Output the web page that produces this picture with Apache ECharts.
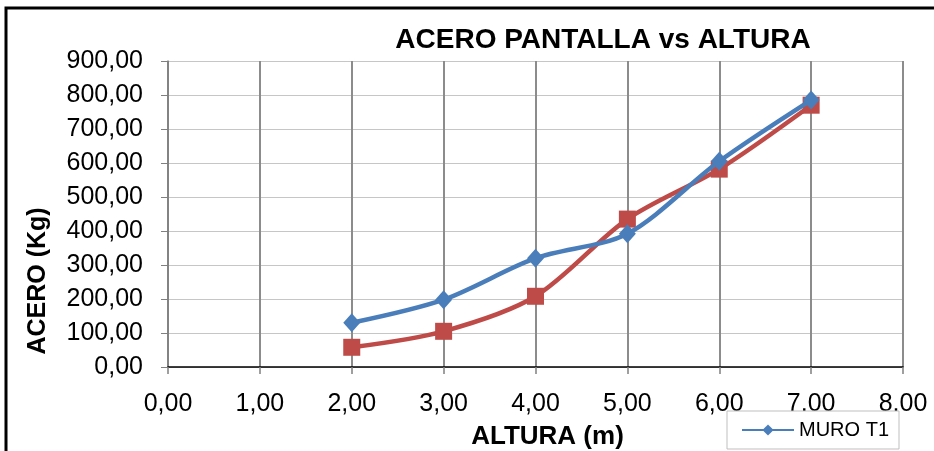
<!DOCTYPE html>
<html>
<head>
<meta charset="utf-8">
<script src="https://cdn.jsdelivr.net/npm/echarts@6/dist/echarts.min.js"></script>
<style>
  html, body { margin: 0; padding: 0; background: #ffffff; }
  #chart { width: 934px; height: 451px; }
</style>
</head>
<body>
<div id="chart"></div>
<script>
// Wall height (m) against reinforcement steel (kg)
const alturas = [2, 3, 4, 5, 6, 7];
const aceroMuroT1 = [130, 198, 320, 392, 605, 785];
const aceroMuroT2 = [58, 105, 208, 435, 582, 770];
const serieNombres = ['MURO T1', 'MURO T2'];

const fmt = v => v.toFixed(2).replace('.', ',');
const FONT = '"Liberation Sans", Arial, sans-serif';

const chart = echarts.init(document.getElementById('chart'), null, { renderer: 'canvas' });

chart.setOption({
  backgroundColor: '#ffffff',
  animation: false,
  title: {
    text: 'ACERO PANTALLA vs ALTURA',
    left: 598,
    top: 21,
    textAlign: 'center',
    textStyle: { fontFamily: FONT, fontSize: 28, fontWeight: 'bold', color: '#000' }
  },
  legend: {
    data: [serieNombres[0]],
    left: 727,
    top: 411,
    padding: [9, 10, 9, 14],
    itemWidth: 52,
    itemHeight: 14,
    itemGap: 6,
    backgroundColor: '#ffffff',
    borderColor: '#bfbfbf',
    borderWidth: 1,
    textStyle: { fontFamily: FONT, fontSize: 20, color: '#000' }
  },
  graphic: [
    {
      type: 'rect',
      shape: { x: 6, y: 8, width: 1000, height: 600 },
      style: { fill: null, stroke: '#000', lineWidth: 3 },
      z: 10
    },
    {
      type: 'text',
      x: 38,
      y: 281,
      rotation: Math.PI / 2,
      style: {
        text: 'ACERO (Kg)',
        fontFamily: FONT,
        fontSize: 25,
        fontWeight: 'bold',
        fill: '#000',
        align: 'center',
        verticalAlign: 'middle'
      }
    }
  ],
  grid: { left: 168, right: 31, top: 61, bottom: 84, containLabel: false, outerBoundsMode: 'none' },
  xAxis: {
    type: 'value',
    min: 0,
    max: 8,
    interval: 1,
    name: 'ALTURA (m)',
    nameLocation: 'middle',
    nameGap: 57,
    nameTextStyle: { fontFamily: FONT, fontSize: 26, fontWeight: 'bold', color: '#000', padding: [0, 0, 0, 24] },
    axisLine: { show: true, lineStyle: { color: '#000', width: 1.5 } },
    axisTick: { show: true, length: 7, lineStyle: { color: '#808080', width: 1.5 } },
    axisLabel: { fontFamily: FONT, fontSize: 25, color: '#000', margin: 25, formatter: fmt },
    splitLine: { show: true, lineStyle: { color: '#8c8c8c', width: 2 } }
  },
  yAxis: {
    type: 'value',
    min: 0,
    max: 900,
    interval: 100,
    axisLine: { show: true, lineStyle: { color: '#808080', width: 1.5 } },
    axisTick: { show: true, length: 7, lineStyle: { color: '#808080', width: 1 } },
    axisLabel: { fontFamily: FONT, fontSize: 25, color: '#000', margin: 25, formatter: fmt },
    splitLine: { show: true, lineStyle: { color: '#c6c6c6', width: 1.2 } }
  },
  series: [
    {
      name: serieNombres[0],
      type: 'line',
      smooth: 0.3,
      data: alturas.map((x, i) => [x, aceroMuroT1[i]]),
      symbol: 'diamond',
      symbolSize: [17, 19],
      lineStyle: { color: '#4a7ebb', width: 4.5 },
      itemStyle: { color: '#4a7ebb' },
      z: 3
    },
    {
      name: serieNombres[1],
      type: 'line',
      smooth: 0.3,
      data: alturas.map((x, i) => [x, aceroMuroT2[i]]),
      symbol: 'rect',
      symbolSize: 17,
      lineStyle: { color: '#be4b48', width: 4.5 },
      itemStyle: { color: '#be4b48' },
      z: 2
    }
  ]
});
</script>
</body>
</html>
